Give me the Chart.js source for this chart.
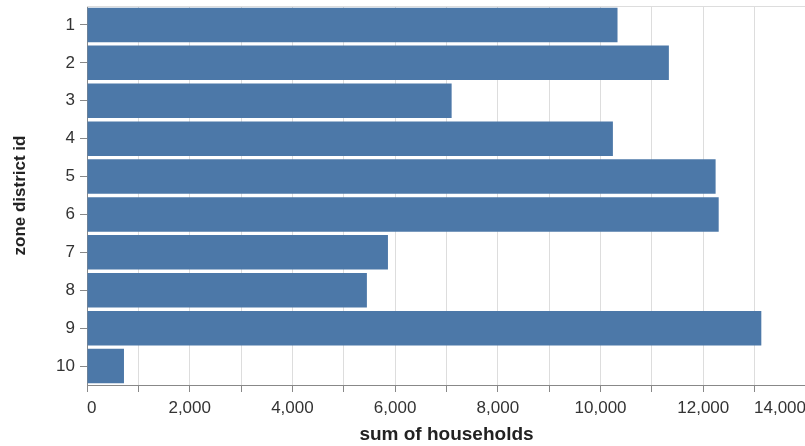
<!DOCTYPE html>
<html>
<head>
<meta charset="utf-8">
<script src="https://cdn.jsdelivr.net/npm/chart.js@4/dist/chart.umd.min.js"></script>
<style>
  html, body { margin: 0; padding: 0; background: #fff; overflow: hidden; }
  #wrap { width: 805px; height: 446px; overflow: hidden; }
</style>
</head>
<body>
<div id="wrap"><canvas id="chartId" width="806" height="446"></canvas></div>
<script>
const districts = ['1', '2', '3', '4', '5', '6', '7', '8', '9', '10']; // zone district ids
const households = [10330, 11330, 7100, 10240, 12240, 12300, 5860, 5450, 13130, 720]; // sum of households per district
const xTicks = [0, 2000, 4000, 6000, 8000, 10000, 12000, 14000]; // labelled ticks on the x axis

const ctx = document.getElementById('chartId').getContext('2d');

// thin line along the top of the plot area
const topLine = {
    id: 'topLine',
    beforeDatasetsDraw(chart) {
        const a = chart.chartArea;
        const c = chart.ctx;
        c.save();
        c.strokeStyle = '#dddddd';
        c.lineWidth = 1;
        c.beginPath();
        c.moveTo(a.left, a.top + 0.5);
        c.lineTo(a.right, a.top + 0.5);
        c.stroke();
        c.restore();
    }
};

const data = {
    labels: districts,
    datasets: [{
        label: 'sum of households',
        data: households,
        backgroundColor: '#4c78a8',
        borderWidth: 0,
        barPercentage: 0.91,
        categoryPercentage: 1.0
    }]
};

const options = {
    indexAxis: 'y',
    responsive: false,
    animation: false,
    devicePixelRatio: 1,
    layout: { padding: { top: 6, right: 0, bottom: 0, left: 0 } },
    plugins: {
        legend: { display: false },
        tooltip: { enabled: false }
    },
    scales: {
        x: {
            min: 0,
            max: 14000,
            ticks: {
                stepSize: 1000,
                autoSkip: false,
                maxRotation: 0,
                align: 'inner',
                padding: 6,
                color: '#333',
                font: { family: 'Liberation Sans, Arial, sans-serif', size: 17 },
                callback: (v) => xTicks.includes(v) ? v.toLocaleString('en-US') : ''
            },
            grid: {
                color: '#dddddd',
                tickColor: '#888888',
                tickLength: 7,
                lineWidth: 1
            },
            border: { color: '#888888' },
            title: {
                display: true,
                text: 'sum of households',
                color: '#222',
                padding: { top: 0, bottom: 0 },
                font: { family: 'Liberation Sans, Arial, sans-serif', size: 19, weight: 'bold' }
            },
            afterFit(scale) {
                scale.height = 61;
                scale.paddingLeft = 0;
                scale.paddingRight = 0;
            }
        },
        y: {
            ticks: {
                padding: 5,
                color: '#333',
                font: { family: 'Liberation Sans, Arial, sans-serif', size: 17 }
            },
            grid: {
                offset: false,
                drawOnChartArea: false,
                tickColor: '#888888',
                tickLength: 7
            },
            border: { color: '#888888' },
            title: {
                display: true,
                text: 'zone district id',
                color: '#222',
                padding: { top: 10, bottom: 0 },
                font: { family: 'Liberation Sans, Arial, sans-serif', size: 17, weight: 'bold' }
            },
            afterFit(scale) {
                scale.width = 87;
                scale.paddingTop = 0;
                scale.paddingBottom = 0;
            }
        }
    }
};

const chart = new Chart(ctx, {
    type: 'bar',
    data: data,
    options: options,
    plugins: [topLine]
});
</script>
</body>
</html>
